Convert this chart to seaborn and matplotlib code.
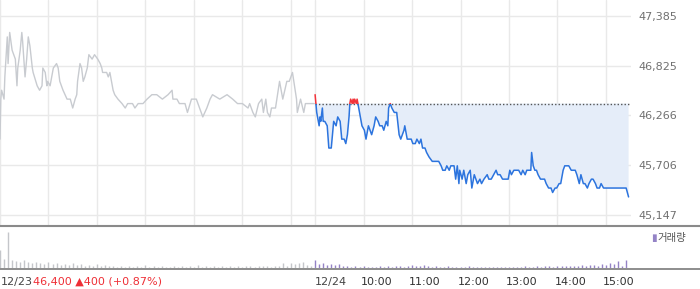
import numpy as np
import pandas as pd
import seaborn as sns
import matplotlib
matplotlib.use("Agg")
import matplotlib.pyplot as plt
from matplotlib.patches import Rectangle
from matplotlib.lines import Line2D
import matplotlib.transforms as mtransforms

sns.set_style("white")
plt.rcParams['font.family'] = ['DejaVu Sans', 'Noto Sans CJK KR']

# ---------------- data ----------------
day1_min = [0, 1, 2, 5, 6, 9, 10, 12, 15, 19,
            21, 22, 25, 27, 28, 31, 33, 35, 37, 40,
            41, 46, 49, 52, 53, 56, 58, 59, 62, 64,
            66, 70, 72, 74, 78, 83, 87, 90, 93, 95,
            96, 99, 101, 103, 105, 108, 110, 114, 117, 121,
            124, 126, 127, 132, 134, 136, 138, 140, 142, 146,
            151, 155, 158, 164, 167, 171, 177, 182, 188, 194,
            201, 208, 213, 214, 219, 222, 229, 232, 237, 243,
            247, 251, 256, 260, 263, 272, 281, 288, 294, 300,
            307, 309, 313, 316, 320, 324, 326, 329, 331, 334,
            336, 341, 346, 350, 355, 358, 362, 367, 368, 372,
            376, 378, 389]
day1_price = [46000, 46450, 46550, 46450, 46700, 47150, 46850, 47200, 47000, 46900,
              46600, 46800, 47000, 47200, 47100, 46700, 46900, 47150, 47050, 46800,
              46750, 46600, 46550, 46600, 46800, 46750, 46600, 46650, 46600, 46700,
              46800, 46850, 46800, 46650, 46550, 46450, 46450, 46350, 46450, 46500,
              46650, 46850, 46800, 46650, 46700, 46800, 46950, 46900, 46950, 46900,
              46850, 46800, 46750, 46750, 46700, 46750, 46650, 46550, 46500, 46450,
              46400, 46350, 46400, 46400, 46350, 46400, 46400, 46450, 46500, 46500,
              46450, 46500, 46550, 46450, 46450, 46400, 46400, 46300, 46450, 46450,
              46350, 46250, 46350, 46450, 46500, 46450, 46500, 46450, 46400, 46400,
              46350, 46400, 46300, 46250, 46400, 46450, 46300, 46450, 46300, 46250,
              46350, 46350, 46650, 46450, 46650, 46650, 46750, 46450, 46300, 46450,
              46300, 46400, 46400]

day2_min = [0, 1, 2, 5, 6, 7, 9, 10, 12, 15,
            17, 20, 21, 23, 26, 28, 31, 33, 36, 38,
            40, 42, 43, 44, 46, 47, 48, 49, 51, 52,
            54, 56, 58, 61, 63, 66, 68, 70, 73, 75,
            78, 80, 83, 85, 88, 90, 91, 93, 95, 98,
            101, 104, 106, 108, 110, 111, 114, 116, 119, 121,
            124, 126, 129, 131, 133, 136, 138, 141, 145, 148,
            153, 156, 158, 161, 163, 166, 168, 172, 174, 176,
            178, 179, 182, 184, 187, 189, 192, 194, 197, 199,
            201, 204, 206, 209, 213, 215, 218, 221, 224, 226,
            229, 232, 235, 239, 241, 243, 246, 250, 252, 255,
            257, 260, 262, 265, 267, 268, 270, 272, 274, 276,
            279, 281, 284, 286, 289, 292, 294, 297, 299, 302,
            304, 307, 309, 312, 314, 317, 319, 322, 324, 327,
            329, 332, 334, 337, 339, 342, 344, 347, 349, 352,
            354, 357, 363, 372, 376, 382, 385, 388]
day2_price = [46500, 46400, 46300, 46150, 46250, 46200, 46350, 46200, 46200, 46150,
              45900, 45900, 46000, 46200, 46150, 46250, 46200, 46000, 46000, 45950,
              46050, 46250, 46400, 46450, 46400, 46450, 46400, 46450, 46400, 46450,
              46350, 46250, 46150, 46100, 46000, 46150, 46100, 46050, 46150, 46250,
              46200, 46150, 46150, 46100, 46200, 46150, 46350, 46400, 46350, 46300,
              46300, 46050, 46000, 46050, 46100, 46150, 46000, 46000, 46000, 45950,
              45950, 46000, 45950, 46000, 45900, 45900, 45850, 45800, 45750, 45750,
              45750, 45700, 45650, 45650, 45700, 45650, 45700, 45700, 45550, 45700,
              45500, 45650, 45550, 45650, 45500, 45600, 45650, 45450, 45600, 45550,
              45500, 45550, 45500, 45550, 45600, 45550, 45550, 45600, 45650, 45600,
              45600, 45550, 45550, 45550, 45650, 45600, 45650, 45650, 45650, 45600,
              45650, 45600, 45650, 45650, 45650, 45850, 45700, 45650, 45650, 45600,
              45550, 45550, 45550, 45500, 45450, 45450, 45400, 45450, 45450, 45500,
              45500, 45650, 45700, 45700, 45700, 45650, 45650, 45650, 45600, 45500,
              45600, 45500, 45500, 45450, 45500, 45550, 45550, 45500, 45450, 45450,
              45500, 45450, 45450, 45450, 45450, 45450, 45450, 45350]

base_price = 46400
ytick_values = [45147, 45706, 46266, 46825, 47385]

vol1 = [18, 9, 36, 8, 7, 6, 8, 6, 5, 6,
        5, 4, 6, 4, 5, 3, 4, 3, 5, 3,
        4, 2, 3, 2, 4, 2, 3, 2, 2, 1,
        2, 1, 2, 1, 2, 1, 3, 1, 2, 1,
        2, 1, 1, 2, 1, 2, 1, 2, 1, 3,
        1, 2, 1, 2, 1, 2, 1, 2, 1, 2,
        1, 2, 2, 1, 2, 2, 2, 1, 2, 2,
        5, 2, 5, 4, 5, 6, 3, 2]
vol2 = [8, 4, 5, 3, 4, 3, 4, 2, 2, 1,
        2, 1, 2, 1, 1, 1, 2, 1, 2, 1,
        2, 2, 1, 2, 3, 2, 2, 3, 2, 1,
        2, 1, 1, 2, 1, 1, 1, 1, 2, 1,
        1, 1, 1, 1, 1, 1, 1, 1, 1, 1,
        1, 1, 2, 1, 1, 2, 1, 2, 2, 1,
        2, 2, 2, 2, 2, 2, 3, 2, 3, 3,
        2, 4, 3, 5, 4, 7, 2, 8]

date_labels = ["12/23", "12/24"]
hour_labels = ["10:00", "11:00", "12:00", "13:00", "14:00", "15:00"]
header_text = "46,400 \u25b2400 (+0.87%)"
legend_text = "거래량"

# ---------------- layout ----------------
SESSION = 390          # minutes per trading day (09:00-15:30)
VOL_STEP = 5
W, H = 700, 289
fig = plt.figure(figsize=(W / 100, H / 100), dpi=100)
fig.patch.set_facecolor("white")


def axes_px(x0, y0, x1, y1):
    return fig.add_axes([x0 / W, 1 - y1 / H, (x1 - x0) / W, (y1 - y0) / H])


ax = axes_px(0, 0, 631, 226)
axv = axes_px(0, 228, 631, 268)

df1 = pd.DataFrame({"pos": day1_min, "price": day1_price})
df2 = pd.DataFrame({"pos": np.array(day2_min) + SESSION, "price": day2_price})

xmax = 2 * SESSION + 1
ylo, yhi = 45023, 47565

# fill under base for day 2
ax.fill_between(df2["pos"], df2["price"], base_price,
                where=df2["price"] <= base_price, interpolate=True,
                color="#e5edf9", lw=0, zorder=1)

sns.lineplot(data=df1, x="pos", y="price", color="#c8cbd0", lw=1.0, ax=ax, zorder=3)

n0 = len(ax.lines)
sns.lineplot(data=df2, x="pos", y="price", color="#2c74de", lw=1.1, ax=ax, zorder=4)
blue = ax.lines[n0]
sns.lineplot(data=df2, x="pos", y="price", color="#f2333a", lw=1.1, ax=ax, zorder=5)
red = ax.lines[n0 + 1]
clip_below = Rectangle((SESSION, ylo - 1000), SESSION * 2, base_price - ylo + 1000,
                       transform=ax.transData)
clip_above = Rectangle((SESSION - 5, base_price), SESSION * 2, 5000,
                       transform=ax.transData)
blue.set_clip_path(clip_below)
red.set_clip_path(clip_above)

ax.hlines(base_price, SESSION, xmax - 1, colors="#555555", linestyles=(0, (1, 1.5)),
          lw=1.0, zorder=2)

ax.set_xlim(0, xmax)
ax.set_ylim(ylo, yhi)
grid_x = list(range(0, SESSION, 60)) + [SESSION] + list(range(SESSION + 60, 2 * SESSION, 60))
ax.set_xticks(grid_x)
ax.set_yticks(ytick_values)
ax.set_yticklabels([f"{v:,}" for v in ytick_values])
ax.grid(True, color="#e9e9e9", lw=1.0, zorder=0)
ax.set_axisbelow(True)
ax.yaxis.tick_right()
ax.tick_params(axis="y", length=0, pad=5, labelsize=8, labelcolor="#707070")
ax.tick_params(axis="x", length=0, labelbottom=False)
ax.set_xlabel("")
ax.set_ylabel("")
for s in ax.spines.values():
    s.set_visible(False)

# ---------------- volume ----------------
v1x = np.arange(len(vol1)) * VOL_STEP
v2x = SESSION + np.arange(len(vol2)) * VOL_STEP
axv.vlines(v1x, 0, vol1, colors="#c4c6ca", lw=1.0)
axv.vlines(v2x, 0, vol2, colors="#9483c6", lw=1.0)
axv.set_xlim(0, xmax)
axv.set_ylim(0, 40)
tick_pos = [0, SESSION] + list(range(SESSION + 60, 2 * SESSION, 60))
axv.set_xticks(tick_pos)
axv.set_yticks([])
axv.tick_params(axis="x", length=5, width=1, color="#555555", labelbottom=False, direction="out")
for s in axv.spines.values():
    s.set_visible(False)
axv.patch.set_alpha(0)

# horizontal frame lines across the full width
fig.add_artist(Line2D([0, 1], [1 - 226 / H, 1 - 226 / H], transform=fig.transFigure,
                      color="#8a8a8a", lw=1.5))
fig.add_artist(Line2D([0, 1], [1 - 268.5 / H, 1 - 268.5 / H], transform=fig.transFigure,
                      color="#7a7a7a", lw=1.2))

# x labels
blend = mtransforms.blended_transform_factory(axv.transData, fig.transFigure)
lab_y = 1 - 282 / H
off = mtransforms.offset_copy(blend, fig=fig, x=-3, y=0, units="dots")
axv.text(0, lab_y, date_labels[0], transform=mtransforms.offset_copy(blend, fig=fig, x=1, units="dots"),
         ha="left", va="center", fontsize=8, color="#444444")
axv.text(0, lab_y, header_text, transform=mtransforms.offset_copy(blend, fig=fig, x=33, units="dots"),
         ha="left", va="center", fontsize=8, color="#ee2f36")
axv.text(SESSION, lab_y, date_labels[1], transform=blend,
         ha="left", va="center", fontsize=8, color="#444444")
for xp, lab in zip(range(SESSION + 60, 2 * SESSION, 60), hour_labels):
    axv.text(xp, lab_y, lab, transform=off, ha="left", va="center", fontsize=8, color="#333333")

# legend
fig.text(651 / W, 1 - 238 / H, "\u25ae", ha="left", va="center", fontsize=7.5, color="#9483c6",
         family=["DejaVu Sans"])
fig.text(657 / W, 1 - 238 / H, legend_text, ha="left", va="center", fontsize=7.5, color="#555555",
         family=["Noto Sans CJK KR", "DejaVu Sans"])

fig.savefig("out.png", dpi=100, facecolor="white")
